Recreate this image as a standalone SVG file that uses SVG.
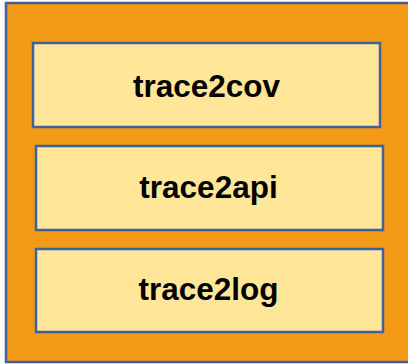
<svg xmlns="http://www.w3.org/2000/svg" width="408" height="364" viewBox="0 0 408 364">
  <style>
    .frame { fill: #F39A17; stroke: #3F619C; stroke-width: 2.5; }
    .box { fill: #FFE699; stroke: #3F619C; stroke-width: 2.5; }
    .label { font-family: "Liberation Sans", Arial, sans-serif; font-weight: bold; font-size: 31.5px; fill: #000; text-anchor: middle; }
  </style>
  <rect width="408" height="364" fill="#ffffff"/>
  <!-- outer container, right edge runs past the canvas -->
  <g id="container">
    <rect class="frame" x="6" y="3" width="410" height="359"/>
  </g>
  <g id="trace2cov">
    <rect class="box" x="33" y="43" width="347" height="84"/>
    <text class="label" x="206.5" y="97">trace2cov</text>
  </g>
  <g id="trace2api">
    <rect class="box" x="36" y="146" width="347" height="84"/>
    <text class="label" x="208.5" y="198">trace2api</text>
  </g>
  <g id="trace2log">
    <rect class="box" x="36" y="249" width="347" height="83"/>
    <text class="label" x="208.5" y="300">trace2log</text>
  </g>
  <g id="connectors"/>
</svg>
